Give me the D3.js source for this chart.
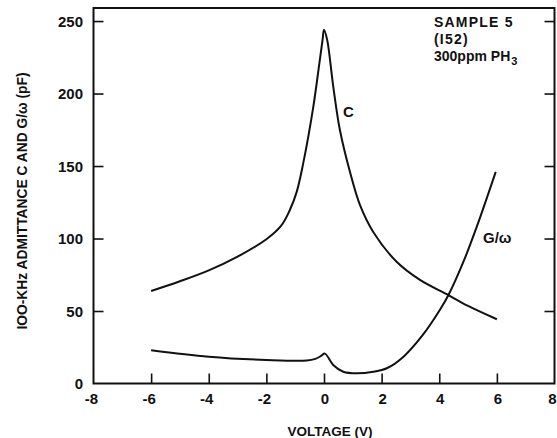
<!DOCTYPE html>
<html>
<head>
<meta charset="utf-8">
<script src="https://cdn.jsdelivr.net/npm/d3@7.9.0/dist/d3.min.js"></script>
<style>
  body { margin: 0; background: #fff; }
  svg text { font-family: 'Liberation Sans', Arial, sans-serif; font-weight: bold; fill: #111; }
</style>
</head>
<body>
<svg id="chart" width="557" height="438"></svg>
<script>
// values
const cVolt = [-6, -5, -4, -3, -2, -1.5, -1.2, -0.95, -0.72, -0.37, -0.16, -0.05, 0, 0.11, 0.32, 0.55, 0.9, 1.25, 1.71, 2.52, 3.33, 4.32, 5, 6];
const cVal  = [63.8, 70.5, 78, 87.5, 99.5, 108.5, 119, 132, 152, 191, 221, 237, 244, 237, 205, 175, 146, 123, 104.5, 84, 71.5, 61, 53.5, 44.3];

const gVolt = [-6, -4, -2, -0.6, -0.3, -0.1, 0.03, 0.32, 0.67, 1.13, 1.71, 2.18, 2.76, 3.45, 4.03, 4.32, 4.84, 5.3, 5.96];
const gVal  = [23, 18.5, 16.2, 15.8, 17, 19, 20.6, 12.8, 8.1, 7, 8.1, 10.5, 18.5, 34, 51, 61, 84, 108, 146];

const xTicks = [-8, -6, -4, -2, 0, 2, 4, 6, 8];
const yTicks = [0, 50, 100, 150, 200, 250];

const sampleLines = ['SAMPLE 5', '(I52)'];

const svg = d3.select('#chart');
const plotLeft = 93.5, plotRight = 554.5, plotTop = 8, plotBottom = 383.5;

const x = d3.scaleLinear().domain([-8, 8]).range([plotLeft, plotRight]);
const y = d3.scaleLinear().domain([0, 259]).range([plotBottom, plotTop]);

// frame
svg.append('rect')
  .attr('x', plotLeft).attr('y', plotTop)
  .attr('width', plotRight - plotLeft).attr('height', plotBottom - plotTop)
  .attr('fill', 'none').attr('stroke', '#111').attr('stroke-width', 2);

// inward ticks
const xAxis = d3.axisBottom(x).tickValues(xTicks.slice(1, -1)).tickSize(-10).tickFormat('');
svg.append('g').attr('transform', `translate(0,${plotBottom})`).call(xAxis)
  .call(g => g.select('.domain').remove());

const yAxisL = d3.axisLeft(y).tickValues(yTicks.slice(1)).tickSize(-10).tickFormat('');
svg.append('g').attr('transform', `translate(${plotLeft},0)`).call(yAxisL)
  .call(g => g.select('.domain').remove());

const yAxisR = d3.axisRight(y).tickValues(yTicks.slice(1)).tickSize(-10).tickFormat('');
svg.append('g').attr('transform', `translate(${plotRight},0)`).call(yAxisR)
  .call(g => g.select('.domain').remove());

svg.selectAll('.tick line').attr('stroke', '#111').attr('stroke-width', 1.6);

// tick labels
svg.append('g').selectAll('text')
  .data(xTicks)
  .join('text')
  .attr('x', d => x(d) + (d < 0 ? -2 : d === 8 ? -2 : 1))
  .attr('y', 404)
  .attr('text-anchor', 'middle')
  .attr('font-size', 15)
  .text(d => d);

svg.append('g').selectAll('text')
  .data(yTicks)
  .join('text')
  .attr('x', 83)
  .attr('y', d => y(d) + 5.5)
  .attr('text-anchor', 'end')
  .attr('font-size', 15)
  .text(d => d);

// axis titles
svg.append('text')
  .attr('x', 330).attr('y', 436)
  .attr('text-anchor', 'middle')
  .attr('font-size', 13.5)
  .text('VOLTAGE (V)');

svg.append('text')
  .attr('transform', 'translate(27,201) rotate(-90)')
  .attr('text-anchor', 'middle')
  .attr('font-size', 14)
  .attr('textLength', 257)
  .attr('lengthAdjust', 'spacingAndGlyphs')
  .text('IOO-KHz ADMITTANCE C AND G/ω (pF)');

// curves
const line = d3.line().x(d => x(d[0])).y(d => y(d[1])).curve(d3.curveCatmullRom.alpha(0.5));

svg.append('path')
  .datum(d3.zip(cVolt, cVal))
  .attr('d', line)
  .attr('fill', 'none').attr('stroke', '#111').attr('stroke-width', 2);

svg.append('path')
  .datum(d3.zip(gVolt, gVal))
  .attr('d', line)
  .attr('fill', 'none').attr('stroke', '#111').attr('stroke-width', 2);

// labels
svg.append('text').attr('x', 343).attr('y', 117).attr('font-size', 15).text('C');
svg.append('text').attr('x', 483).attr('y', 243).attr('font-size', 15).text('G/ω');

svg.append('g').selectAll('text')
  .data(sampleLines)
  .join('text')
  .attr('x', 434)
  .attr('y', (d, i) => 27 + i * 17)
  .attr('font-size', 14)
  .attr('letter-spacing', 1.2)
  .text(d => d);

const ph = svg.append('text').attr('x', 434).attr('y', 61).attr('font-size', 14);
ph.append('tspan').text('300ppm PH');
ph.append('tspan').attr('dy', 4).attr('dx', 1).attr('font-size', 11).text('3');
</script>
</body>
</html>
